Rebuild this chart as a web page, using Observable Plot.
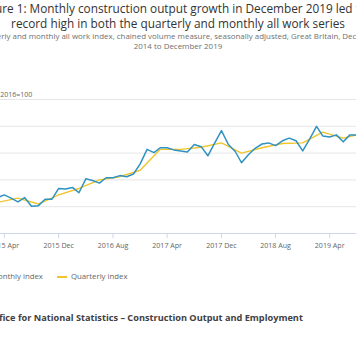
<!DOCTYPE html>
<html>
<head>
<meta charset="utf-8">
<script src="https://cdn.jsdelivr.net/npm/d3@7"></script>
<script src="https://cdn.jsdelivr.net/npm/@observablehq/plot@0.6"></script>
<style>
  html, body { margin: 0; padding: 0; background: #fff; }
  body { width: 356px; height: 364px; overflow: hidden; position: relative; font-family: "Open Sans", sans-serif; }
  .abs { position: absolute; white-space: nowrap; }
  #title { left: -60px; width: 476px; top: 0.5px; text-align: center; font-size: 11.8px; line-height: 15.5px; color: #333333; }
  #subtitle { left: -60px; width: 476px; top: 30.5px; text-align: center; font-size: 7.95px; line-height: 10.8px; color: #707070; }
  #chart { left: -60px; top: 80px; }
  #legend { left: -23px; top: 270px; font-size: 7.8px; line-height: 13px; color: #666666; display: flex; align-items: center; }
  .item { display: flex; align-items: center; margin-right: 14px; }
  .sw { width: 10px; height: 2px; margin-right: 4px; }
  #source { left: -48px; top: 311px; font-size: 9.2px; line-height: 13px; font-weight: bold; color: #414042; }
</style>
</head>
<body>
<div id="title" class="abs">Figure 1: Monthly construction output growth in December 2019 led to a<br>record high in both the quarterly and monthly all work series</div>
<div id="subtitle" class="abs">Quarterly and monthly all work index, chained volume measure, seasonally adjusted, Great Britain, December<br>2014 to December 2019</div>
<div id="chart" class="abs"></div>
<div id="legend" class="abs"></div>
<div id="source" class="abs">Source: Office for National Statistics – Construction Output and Employment</div>
<script>
// Monthly all work index, Dec 2014 .. Dec 2019 (2016=100)
const monthStart = "2014-12-01";
const monthlyValues = [
  95.9, 95.2, 95.5, 96.7, 97.2, 96.6, 95.9, 96.7, 95.1, 95.2, 96.4, 96.4,
  98.4, 98.3, 98.6, 97.6, 100.2, 99.9, 99.4, 100.4, 100.4, 100.8, 100.6, 101.1,
  103.0, 105.7, 105.1, 106.0, 106.0, 105.6, 105.4, 105.2, 106.6, 106.2, 104.5, 106.9,
  109.2, 106.6, 105.3, 103.2, 104.7, 105.9, 106.7, 106.9, 106.4, 107.3, 107.8, 107.3,
  105.4, 107.6, 110.0, 108.2, 108.0, 108.4, 107.1, 108.4, 108.4, 108.9, 108.4, 107.9,
  110.9
];
// Quarterly all work index, Q4 2014 .. Q4 2019, plotted at last month of quarter
const quarterlyValues = [
  95.7, 95.8, 96.6, 95.5, 97.2, 98.4, 100.0, 100.6, 101.8, 105.7, 105.7,
  106.1, 106.9, 105.0, 106.0, 106.8, 106.9, 108.9, 107.8, 108.7, 109.1
];
const seriesNames = ["Monthly index", "Quarterly index"];
const seriesColors = ["#2f92c2", "#f0c52c"];
const yTicks = [90, 95, 100, 105, 110, 115];
const xTickLabels = ["2015 Apr", "2015 Dec", "2016 Aug", "2017 Apr", "2017 Dec", "2018 Aug", "2019 Apr", "2019 Dec"];
const yLabel = "Index 2016=100";

const monthNames = ["Jan","Feb","Mar","Apr","May","Jun","Jul","Aug","Sep","Oct","Nov","Dec"];
const start = new Date(monthStart + "T00:00:00Z");
const addMonths = (d, n) => new Date(Date.UTC(d.getUTCFullYear(), d.getUTCMonth() + n, 1));
const monthly = monthlyValues.map((v, i) => ({date: addMonths(start, i), value: v, series: seriesNames[0]}));
const quarterly = quarterlyValues.map((v, i) => ({date: addMonths(start, i * 3), value: v, series: seriesNames[1]}));
const parseTick = s => { const [y, m] = s.split(" "); return new Date(Date.UTC(+y, monthNames.indexOf(m), 1)); };
const xTicks = xTickLabels.map(parseTick);
const fmt = d => d.getUTCFullYear() + " " + monthNames[d.getUTCMonth()];

const chart = Plot.plot({
  width: 476,
  height: 180,
  marginLeft: 36.9,
  marginRight: 32.5,
  marginTop: 19,
  marginBottom: 27,
  style: {background: "transparent", fontFamily: "Open Sans", overflow: "visible", maxWidth: "none"},
  x: {type: "utc", domain: [monthly[0].date, monthly[monthly.length - 1].date]},
  y: {domain: [90, 115]},
  marks: [
    Plot.gridY(yTicks.slice(1), {stroke: "#e6e6e6", strokeOpacity: 1, strokeWidth: 1}),
    Plot.ruleY([90], {stroke: "#ccd6eb", strokeWidth: 1}),
    Plot.axisY({ticks: yTicks, tickSize: 0, tickPadding: 6, fontSize: 7, fill: "#666666", label: null}),
    Plot.axisX({ticks: xTicks, tickFormat: fmt, tickSize: 5, tickPadding: 4, stroke: "#ccd6eb", fontSize: 7.1, fill: "#666666", label: null}),
    Plot.text([yLabel], {frameAnchor: "top-left", text: d => d, textAnchor: "start", lineAnchor: "middle", dx: 3, dy: -4.5, fontSize: 7, fill: "#666666"}),
    Plot.line(quarterly, {x: "date", y: "value", stroke: seriesColors[1], strokeWidth: 1.4}),
    Plot.line(monthly, {x: "date", y: "value", stroke: seriesColors[0], strokeWidth: 1.5})
  ]
});
document.getElementById("chart").appendChild(chart);

const legend = document.getElementById("legend");
seriesNames.forEach((name, i) => {
  const item = document.createElement("div");
  item.className = "item";
  const sw = document.createElement("span");
  sw.className = "sw";
  sw.style.background = seriesColors[i];
  const t = document.createElement("span");
  t.textContent = name;
  item.appendChild(sw);
  item.appendChild(t);
  legend.appendChild(item);
});
</script>
</body>
</html>
